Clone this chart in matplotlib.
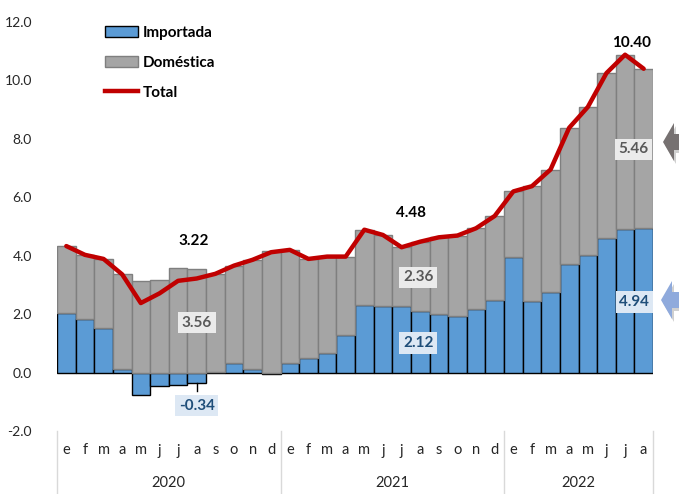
import numpy as np
from matplotlib import pyplot as plt
from matplotlib.patches import Polygon, Patch
from matplotlib.lines import Line2D
from matplotlib import transforms

# --- DATA ---
months = ["e", "f", "m", "a", "m", "j", "j", "a", "s", "o", "n", "d",
          "e", "f", "m", "a", "m", "j", "j", "a", "s", "o", "n", "d",
          "e", "f", "m", "a", "m", "j", "j", "a"]
years = ["2020", "2021", "2022"]
year_len = [12, 12, 8]

importada = [2.04, 1.84, 1.52, 0.13, -0.76, -0.47, -0.43, -0.34, 0.03, 0.32, 0.13, -0.05,
             0.32, 0.50, 0.67, 1.30, 2.31, 2.27, 2.27, 2.12, 2.01, 1.95, 2.18, 2.50,
             3.95, 2.44, 2.75, 3.72, 4.04, 4.61, 4.92, 4.94]
total = [4.33, 4.03, 3.89, 3.36, 2.38, 2.71, 3.14, 3.22, 3.38, 3.66, 3.86, 4.12,
         4.20, 3.89, 3.97, 3.97, 4.89, 4.71, 4.29, 4.48, 4.63, 4.69, 4.94, 5.36,
         6.20, 6.38, 6.95, 8.38, 9.09, 10.25, 10.88, 10.40]

plt.rcParams["font.family"] = ["Lato", "DejaVu Sans"]

# --- COLORS ---
c_blue = "#5b9bd5"
c_gray = "#a5a5a5"
c_red = "#c00000"

W, H = 679, 494
fig = plt.figure(figsize=(W / 100, H / 100), dpi=100)
ax = fig.add_axes([57 / W, 1 - 431 / H, (653 - 57) / W, (431 - 22) / H])

x = np.arange(len(months))
imp = np.array(importada)
tot = np.array(total)
dom = tot - imp
dom_bottom = np.clip(imp, 0, None)

ax.axhline(0, color="#d9d9d9", lw=1.5, zorder=0)
ax.bar(x, imp, width=1.0, color=c_blue, edgecolor="black", linewidth=1.0, zorder=2)
ax.bar(x, dom, bottom=dom_bottom, width=1.0, color=c_gray, edgecolor="#7f7f7f",
       linewidth=1.0, zorder=2)
ax.plot(x, tot, color=c_red, lw=3.2, zorder=4, solid_capstyle="round")

ax.set_xlim(-0.5, len(months) - 0.5)
ax.set_ylim(-2, 12)
ax.set_yticks(np.arange(-2, 12.1, 2))
ax.set_yticklabels([f"{v:.1f}" for v in np.arange(-2, 12.1, 2)])
ax.tick_params(axis="y", length=0, pad=18, labelsize=10, labelcolor="#262626")
ax.set_xticks(x)
ax.set_xticklabels(months)
ax.tick_params(axis="x", length=0, pad=9, labelsize=10.5, labelcolor="#262626")
for s in ax.spines.values():
    s.set_visible(False)

# --- YEAR LABELS / SEPARATORS ---
trans = transforms.blended_transform_factory(ax.transData, ax.transAxes)
start = 0
bottom_frac = -(H - 431) / (431 - 22)
for yr, n in zip(years, year_len):
    ax.text(start + n / 2 - 0.5, -0.127, yr, transform=trans, ha="center", va="center",
            fontsize=10.5, color="#262626")
    start += n
edges = np.concatenate([[0], np.cumsum(year_len)]) - 0.5
for e in edges:
    ax.add_line(Line2D([e, e], [0, bottom_frac], transform=trans, color="#d9d9d9",
                       lw=1, clip_on=False))

# --- DATA LABELS ---
ax.text(6.85, 4.52, "3.22", ha="center", va="center", fontsize=11, fontweight="bold")
ax.text(18.5, 5.45, "4.48", ha="center", va="center", fontsize=11, fontweight="bold")
ax.text(30.37, 11.29, "10.40", ha="center", va="center", fontsize=11, fontweight="bold")

gray_box = dict(boxstyle="square,pad=0.25", fc="#ebebeb", ec="none")
blue_box = dict(boxstyle="square,pad=0.25", fc="#dde8f4", ec="none")
ax.text(7.0, 1.71, "3.56", ha="center", va="center", fontsize=11, fontweight="bold",
        color="#595959", bbox=gray_box, zorder=5)
ax.text(18.9, 3.26, "2.36", ha="center", va="center", fontsize=11, fontweight="bold",
        color="#595959", bbox=gray_box, zorder=5)
ax.text(30.45, 7.64, "5.46", ha="center", va="center", fontsize=11, fontweight="bold",
        color="#595959", bbox=gray_box, zorder=5)
ax.text(18.9, 1.02, "2.12", ha="center", va="center", fontsize=11, fontweight="bold",
        color="#1f4e79", bbox=blue_box, zorder=5)
ax.text(30.5, 2.41, "4.94", ha="center", va="center", fontsize=11, fontweight="bold",
        color="#1f4e79", bbox=blue_box, zorder=5)
ax.text(7.0, -1.13, "-0.34", ha="center", va="center", fontsize=11, fontweight="bold",
        color="#1f4e79", bbox=blue_box, zorder=5)
ax.plot([7, 7], [imp[7], -0.62], color="black", lw=1, zorder=3)


# --- SIDE ARROWS ---
def arrow(tip_x, cy, color):
    pts = [(tip_x, cy), (tip_x + 11, cy - 19), (tip_x + 11, cy - 8), (W + 5, cy - 8),
           (W + 5, cy + 8), (tip_x + 11, cy + 8), (tip_x + 11, cy + 19)]
    sh = [(px + 2, py + 3) for px, py in pts]
    for p, c in ((sh, "#d0d0d0"), (pts, color)):
        fig.patches.append(Polygon([(px / W, 1 - py / H) for px, py in p], closed=True,
                                   transform=fig.transFigure, fc=c, ec="none"))


arrow(663, 142, "#767171")
arrow(661, 300, "#8faadc")

# --- LEGEND ---
handles = [Patch(fc=c_blue, ec="black", lw=1.0),
           Patch(fc=c_gray, ec="#7f7f7f", lw=1.0),
           Line2D([0], [0], color=c_red, lw=3.2)]
fig.legend(handles, ["Importada", "Doméstica", "Total"], loc="upper left",
           bbox_to_anchor=(91 / W, 1 - 12 / H), frameon=False, handlelength=2.2,
           handleheight=0.75, handletextpad=0.3, labelspacing=1.05,
           prop=dict(weight="bold", size=11))

fig.savefig("out.png", dpi=100)
